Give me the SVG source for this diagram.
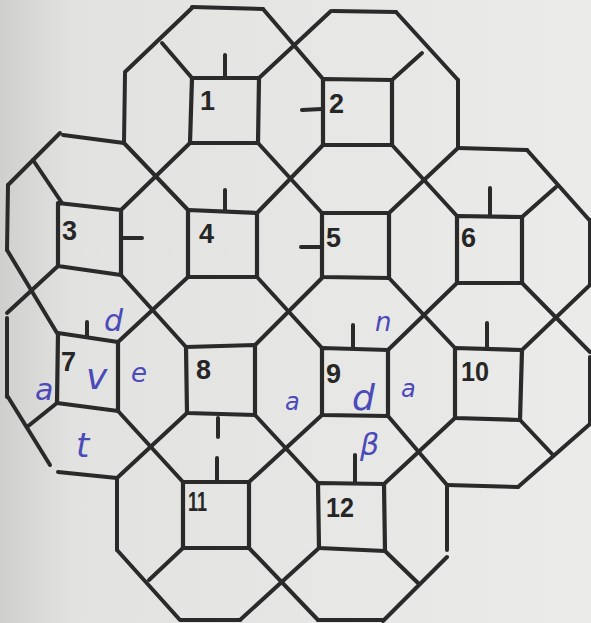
<svg xmlns="http://www.w3.org/2000/svg" width="591" height="623" viewBox="0 0 591 623">
<style>
.ln{fill:none;stroke:#2a2a2a;stroke-width:4;stroke-linecap:round;stroke-linejoin:round}
.sq{fill:none;stroke:#2a2a2a;stroke-width:4.2;stroke-linejoin:round}
.tk{stroke:#2a2a2a;stroke-width:4;stroke-linecap:round}
.num{font-family:"Liberation Sans",Arial,sans-serif;font-weight:bold;font-size:27px;fill:#262626}
.hw{font-family:"DejaVu Sans","Liberation Sans",sans-serif;font-style:italic;fill:#4a4ab8}
</style>
<defs>
<linearGradient id="bg" x1="0" y1="0" x2="1" y2="0">
<stop offset="0" stop-color="#cfcfcd"/>
<stop offset="0.12" stop-color="#e2e2e0"/>
<stop offset="1" stop-color="#ebebea"/>
</linearGradient>
</defs>
<rect x="0" y="0" width="591" height="623" fill="url(#bg)"/>

<g id="connectors">
<polyline class="ln" points="192,7 263,9"/>
<polyline class="ln" points="192,8 125,72"/>
<polyline class="ln" points="125,74 124,143"/>
<polyline class="ln" points="162,43 192,78"/>
<polyline class="ln" points="263,9 323,79"/>
<polyline class="ln" points="259,78 331,11"/>
<polyline class="ln" points="333,11 396,12"/>
<polyline class="ln" points="396,12 458,80"/>
<polyline class="ln" points="458,80 458,148"/>
<polyline class="ln" points="422,53 392,80"/>
<polyline class="ln" points="63,135 124,143"/>
<polyline class="ln" points="60,133 8,185"/>
<polyline class="ln" points="33,160 62,203"/>
<polyline class="ln" points="8,185 7,250"/>
<polyline class="ln" points="7,250 57,333"/>
<polyline class="ln" points="58,266 7,313"/>
<polyline class="ln" points="7,318 7,397"/>
<polyline class="ln" points="8,397 50,465"/>
<polyline class="ln" points="27,427 57,403"/>
<polyline class="ln" points="58,472 117,478"/>
<polyline class="ln" points="117,478 117,550"/>
<polyline class="ln" points="117,550 180,620 240,620"/>
<polyline class="ln" points="183,548 149,580"/>
<polyline class="ln" points="124,143 188,210"/>
<polyline class="ln" points="190,143 121,210"/>
<polyline class="ln" points="258,143 322,213"/>
<polyline class="ln" points="323,145 257,213"/>
<polyline class="ln" points="392,145 457,216"/>
<polyline class="ln" points="458,148 389,213"/>
<polyline class="ln" points="458,148 527,150"/>
<polyline class="ln" points="527,150 591,222"/>
<polyline class="ln" points="556,187 522,217"/>
<polyline class="ln" points="590,220 590,284"/>
<polyline class="ln" points="121,275 186,347"/>
<polyline class="ln" points="188,277 118,342"/>
<polyline class="ln" points="257,277 322,348"/>
<polyline class="ln" points="322,278 255,345"/>
<polyline class="ln" points="389,278 455,348"/>
<polyline class="ln" points="457,283 388,350"/>
<polyline class="ln" points="522,283 590,352"/>
<polyline class="ln" points="590,285 522,350"/>
<polyline class="ln" points="590,357 590,424"/>
<polyline class="ln" points="590,424 518,487"/>
<polyline class="ln" points="520,420 553,455"/>
<polyline class="ln" points="447,485 518,487"/>
<polyline class="ln" points="118,411 183,482"/>
<polyline class="ln" points="187,413 117,478"/>
<polyline class="ln" points="255,415 318,483"/>
<polyline class="ln" points="322,415 249,482"/>
<polyline class="ln" points="388,416 447,485"/>
<polyline class="ln" points="455,418 384,484"/>
<polyline class="ln" points="447,485 447,550"/>
<polyline class="ln" points="447,557 383,621"/>
<polyline class="ln" points="385,551 418,583"/>
<polyline class="ln" points="318,620 383,620"/>
<polyline class="ln" points="249,548 318,620"/>
<polyline class="ln" points="319,548 240,620"/>
</g>

<g id="node-1">
<polygon class="sq" points="192,78 259,78 258,143 190,143"/>
<line class="tk" x1="225" y1="55" x2="225" y2="78"/>
<text class="num" x="200" y="110">1</text>
</g>
<g id="node-2">
<polygon class="sq" points="323,79 392,80 392,145 323,145"/>
<line class="tk" x1="302" y1="110" x2="322" y2="109"/>
<text class="num" x="329" y="113">2</text>
</g>
<g id="node-3">
<polygon class="sq" points="58,203 121,210 121,275 58,266"/>
<line class="tk" x1="122" y1="238" x2="142" y2="238"/>
<text class="num" x="62" y="240">3</text>
</g>
<g id="node-4">
<polygon class="sq" points="188,210 257,213 257,277 188,277"/>
<line class="tk" x1="225" y1="190" x2="225" y2="211"/>
<text class="num" x="199" y="243">4</text>
</g>
<g id="node-5">
<polygon class="sq" points="322,213 389,213 389,278 322,277"/>
<line class="tk" x1="301" y1="247" x2="322" y2="247"/>
<text class="num" x="326" y="247">5</text>
</g>
<g id="node-6">
<polygon class="sq" points="457,216 522,217 522,283 457,283"/>
<line class="tk" x1="490" y1="188" x2="490" y2="214"/>
<text class="num" x="461" y="247">6</text>
</g>
<g id="node-7">
<polygon class="sq" points="58,333 118,342 118,411 57,403"/>
<line class="tk" x1="87" y1="322" x2="87" y2="336"/>
<text class="num" x="61" y="371" font-size="24">7</text>
</g>
<g id="node-8">
<polygon class="sq" points="186,347 255,345 255,415 187,413"/>
<line class="tk" x1="218" y1="418" x2="218" y2="437"/>
<text class="num" x="196" y="379">8</text>
</g>
<g id="node-9">
<polygon class="sq" points="322,348 388,350 388,416 322,415"/>
<line class="tk" x1="353" y1="325" x2="353" y2="348"/>
<text class="num" x="326" y="383">9</text>
</g>
<g id="node-10">
<polygon class="sq" points="455,348 522,350 520,420 455,418"/>
<line class="tk" x1="487" y1="323" x2="487" y2="348"/>
<text class="num" x="461" y="381" textLength="28" lengthAdjust="spacingAndGlyphs">10</text>
</g>
<g id="node-11">
<polygon class="sq" points="183,482 249,482 249,548 183,548"/>
<line class="tk" x1="217" y1="458" x2="217" y2="481"/>
<text class="num" x="188" y="511" font-size="24" textLength="19" lengthAdjust="spacingAndGlyphs">11</text>
</g>
<g id="node-12">
<polygon class="sq" points="318,483 384,484 385,551 319,548"/>
<line class="tk" x1="355" y1="455" x2="355" y2="482"/>
<text class="num" x="326" y="517" textLength="28" lengthAdjust="spacingAndGlyphs">12</text>
</g>

<g id="handwriting">
<text class="hw" x="104" y="331" font-size="30">d</text>
<text class="hw" x="86" y="389" font-size="36">v</text>
<text class="hw" x="131" y="382" font-size="26">e</text>
<text class="hw" x="35" y="400" font-size="30">a</text>
<text class="hw" x="76" y="457" font-size="34">t</text>
<text class="hw" x="375" y="331" font-size="26">n</text>
<text class="hw" x="352" y="410" font-size="36">d</text>
<text class="hw" x="401" y="397" font-size="24">a</text>
<text class="hw" x="285" y="410" font-size="24">a</text>
<text class="hw" x="360" y="455" font-size="30">β</text>
</g>
</svg>
